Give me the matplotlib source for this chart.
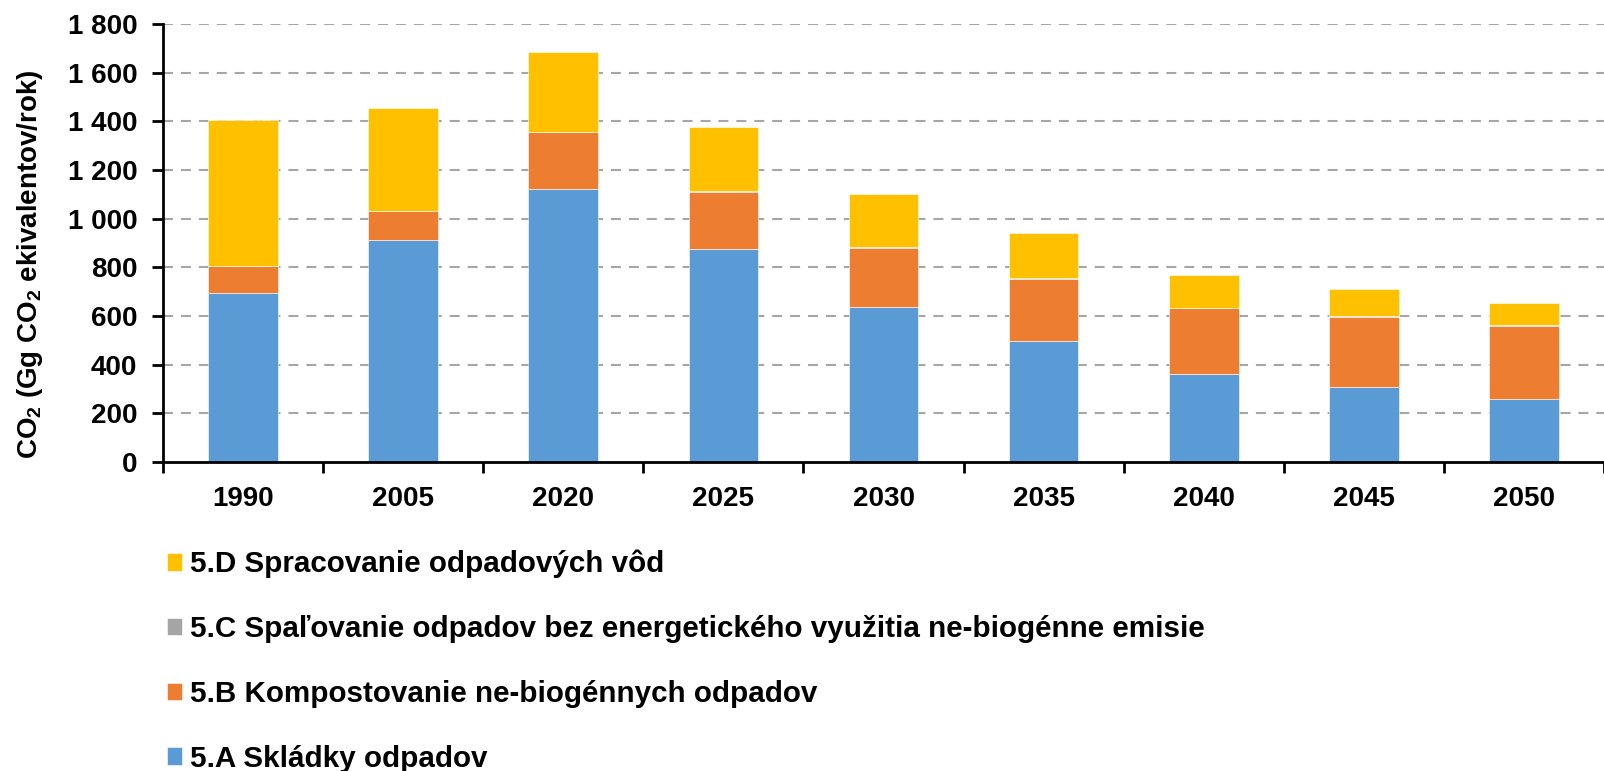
import matplotlib
matplotlib.use("Agg")
import matplotlib.pyplot as plt
import numpy as np
from matplotlib.ticker import FixedLocator, FuncFormatter

plt.rcParams['font.family'] = ['Liberation Sans', 'DejaVu Sans']
plt.rcParams['mathtext.fontset'] = 'custom'
plt.rcParams['mathtext.rm'] = 'Liberation Sans:bold'
plt.rcParams['mathtext.bf'] = 'Liberation Sans:bold'
plt.rcParams['mathtext.default'] = 'bf'

years = ['1990', '2005', '2020', '2025', '2030', '2035', '2040', '2045', '2050']
a_skladky = [696, 912, 1121, 877, 636, 497, 360, 309, 259]
b_kompost = [111, 121, 234, 233, 245, 256, 271, 286, 299]
c_spalovanie = [0, 0, 3, 3, 3, 3, 3, 3, 3]
d_vody = [599, 423, 327, 265, 218, 186, 136, 115, 93]

labels = ['5.A Skládky odpadov',
          '5.B Kompostovanie ne-biogénnych odpadov',
          '5.C Spaľovanie odpadov bez energetického využitia ne-biogénne emisie',
          '5.D Spracovanie odpadových vôd']
colors = ['#5B9BD5', '#ED7D31', '#A5A5A5', '#FFC000']

fig = plt.figure(figsize=(16.04, 7.71), dpi=100)
ax = fig.add_axes([163/1604, 1-462/771, 1-163/1604, (462-24)/771])

x = np.arange(len(years))
series = [a_skladky, b_kompost, c_spalovanie, d_vody]
bottom = np.zeros(len(years))
handles = []
for vals, lab, col in zip(series, labels, colors):
    v = np.array(vals, dtype=float)
    h = ax.bar(x, v, width=0.435, bottom=bottom, color=col, label=lab,
               edgecolor='white', linewidth=0.4, zorder=3)
    handles.append(h)
    bottom += v

ax.set_xlim(-0.5, len(years) - 0.5)
ax.set_ylim(0, 1800)
ax.yaxis.set_major_locator(FixedLocator(np.arange(0, 1801, 200)))
ax.yaxis.set_major_formatter(FuncFormatter(lambda v, p: f"{int(v):,}".replace(",", " ")))
ax.set_xticks(x)
ax.set_xticklabels(years)
ax.set_xticks(np.arange(-0.5, len(years), 1.0), minor=True)
ax.tick_params(axis='x', which='major', length=0, pad=17, labelsize=20)
ax.tick_params(axis='x', which='minor', length=8, width=2, direction='out')
ax.tick_params(axis='y', which='major', length=8, width=2, direction='out', labelsize=20, pad=10.5)
for lbl in ax.get_xticklabels() + ax.get_yticklabels():
    lbl.set_fontweight('bold')

for s in ['top', 'right']:
    ax.spines[s].set_visible(False)
for s in ['left', 'bottom']:
    ax.spines[s].set_linewidth(2)
    ax.spines[s].set_zorder(4)

for yv in np.arange(200, 1801, 200):
    ax.axhline(yv, color='#A6A6A6', linewidth=1.5, linestyle=(0, (4.8, 3.8)), zorder=1)

ax.set_ylabel(r'CO$_2$ (Gg CO$_2$ ekivalentov/rok)', fontsize=20, fontweight='bold')
ax.yaxis.set_label_coords((45-163)/1441, (462-264.5)/438)

leg = fig.legend(handles[::-1], labels[::-1], loc='upper left',
                 bbox_to_anchor=(167/1604, 1-550/771), frameon=False,
                 prop={'weight': 'bold', 'size': 21.3}, handlelength=0.52, handleheight=0.52,
                 handletextpad=0.25, labelspacing=1.24, borderaxespad=0, borderpad=0)

fig.savefig('out.png', dpi=100)
